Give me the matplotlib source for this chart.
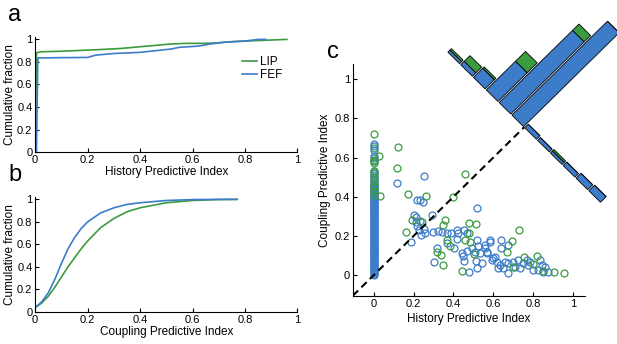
import numpy as np
import matplotlib
matplotlib.use("Agg")
import matplotlib.pyplot as plt
from matplotlib.transforms import Affine2D

plt.rcParams['font.family'] = ['Liberation Sans', 'DejaVu Sans']
plt.rcParams['font.size'] = 8

BLUE = '#3d7cc9'
GREEN = '#3a9b3f'

# panel a: CDF of history predictive index
hist_lip_x = [0, 0.005, 0.02, 0.1, 0.2, 0.25, 0.33, 0.4, 0.45, 0.52, 0.58, 0.65, 0.7, 0.75, 0.85, 0.96]
hist_lip_y = [0, 0.88, 0.89, 0.895, 0.905, 0.91, 0.92, 0.935, 0.945, 0.96, 0.965, 0.965, 0.97, 0.98, 0.99, 1.0]
hist_fef_x = [0, 0.005, 0.01, 0.1, 0.2, 0.23, 0.3, 0.4, 0.48, 0.52, 0.55, 0.62, 0.67, 0.72, 0.8, 0.85, 0.88]
hist_fef_y = [0, 0.0, 0.835, 0.838, 0.84, 0.86, 0.875, 0.885, 0.905, 0.915, 0.93, 0.94, 0.96, 0.975, 0.985, 1.0, 1.0]

# panel b: CDF of coupling predictive index
coup_x = [0, 0.025, 0.05, 0.075, 0.1, 0.125, 0.15, 0.175, 0.2, 0.25, 0.3, 0.35, 0.4, 0.5, 0.6, 0.7, 0.77]
coup_fef = [0.04, 0.09, 0.17, 0.29, 0.43, 0.56, 0.66, 0.74, 0.80, 0.88, 0.925, 0.955, 0.97, 0.99, 0.998, 1.0, 1.0]
coup_lip = [0.04, 0.08, 0.14, 0.22, 0.31, 0.40, 0.48, 0.56, 0.63, 0.75, 0.83, 0.89, 0.925, 0.97, 0.99, 0.998, 1.0]

# panel c: scatter, FEF (blue) neurons with zero history index
fef_col_y = [0.000, 0.005, 0.010, 0.015, 0.020, 0.025, 0.030, 0.035, 0.040, 0.045, 0.050, 0.055,
             0.060, 0.065, 0.070, 0.075, 0.080, 0.085, 0.090, 0.095, 0.100, 0.105, 0.110, 0.115,
             0.120, 0.125, 0.130, 0.135, 0.140, 0.145, 0.150, 0.155, 0.160, 0.165, 0.170, 0.175,
             0.180, 0.185, 0.190, 0.195, 0.200, 0.205, 0.210, 0.215, 0.220, 0.225, 0.230, 0.235,
             0.240, 0.245, 0.250, 0.255, 0.260, 0.265, 0.270, 0.275, 0.280, 0.285, 0.290, 0.295,
             0.300, 0.305, 0.310, 0.315, 0.320, 0.325, 0.330, 0.335, 0.340, 0.345, 0.350, 0.355,
             0.360, 0.365, 0.370, 0.375, 0.380, 0.385, 0.390, 0.395, 0.400, 0.405, 0.410, 0.415,
             0.420, 0.425, 0.430, 0.435, 0.440, 0.445, 0.450, 0.455, 0.46, 0.47, 0.48, 0.49, 0.50,
             0.51, 0.52, 0.53, 0.58, 0.60, 0.61, 0.64, 0.66, 0.67]
fef_x = [0.118, 0.253, 0.219, 0.231, 0.247, 0.29, 0.189, 0.202, 0.21, 0.214, 0.227, 0.217, 0.256,
         0.239, 0.253, 0.231, 0.298, 0.323, 0.34, 0.365, 0.387, 0.416, 0.424, 0.517, 0.315, 0.301,
         0.402, 0.416, 0.449, 0.453, 0.478, 0.466, 0.453, 0.517, 0.525, 0.534, 0.508, 0.492, 0.513,
         0.517, 0.542, 0.559, 0.584, 0.466, 0.441, 0.369, 0.567,
         0.641, 0.583, 0.558, 0.566, 0.675, 0.641, 0.599, 0.616, 0.633, 0.658, 0.675, 0.70, 0.725,
         0.75, 0.775, 0.784, 0.834, 0.842, 0.859, 0.876, 0.801, 0.734, 0.675, 0.65, 0.625, 0.608,
         0.591, 0.709, 0.767, 0.826, 0.851]
fef_y = [0.472, 0.506, 0.384, 0.384, 0.372, 0.307, 0.17, 0.307, 0.295, 0.273, 0.231, 0.248, 0.214,
         0.205, 0.234, 0.277, 0.222, 0.226, 0.222, 0.214, 0.214, 0.231, 0.214, 0.341, 0.138, 0.065,
         0.138, 0.183, 0.095, 0.07, 0.015, 0.214, 0.231, 0.18, 0.146, 0.112, 0.117, 0.138, 0.073,
         0.036, 0.061, 0.138, 0.18, 0.121, 0.112, 0.163, 0.112,
         0.178, 0.17, 0.153, 0.119, 0.153, 0.136, 0.085, 0.068, 0.051, 0.068, 0.06, 0.068, 0.076,
         0.06, 0.051, 0.068, 0.076, 0.051, 0.043, 0.017, 0.025, 0.034, 0.008, 0.034, 0.034, 0.093,
         0.076, 0.043, 0.076, 0.025, 0.017]

# panel c: scatter, LIP (green)
lip_col_y = [0.72, 0.65, 0.59, 0.58, 0.57, 0.53, 0.52, 0.50, 0.48, 0.46, 0.45, 0.43, 0.41]
lip_x = [0.121, 0.024, 0.118, 0.029, 0.17, 0.261, 0.458, 0.399, 0.162, 0.19, 0.24, 0.359, 0.345,
         0.48, 0.512, 0.369, 0.382, 0.315, 0.335, 0.348, 0.443, 0.458, 0.48, 0.483, 0.503, 0.668,
         0.73, 0.692, 0.756, 0.821, 0.801, 0.70, 0.848, 0.905, 0.956]
lip_y = [0.652, 0.61, 0.548, 0.404, 0.413, 0.404, 0.516, 0.40, 0.219, 0.28, 0.27, 0.282, 0.256,
         0.265, 0.261, 0.18, 0.146, 0.117, 0.104, 0.049, 0.022, 0.18, 0.214, 0.171, 0.105, 0.117,
         0.23, 0.174, 0.094, 0.096, 0.059, 0.043, 0.022, 0.017, 0.009]

# rotated histogram of (history - coupling), upper-left bin first
diff_fef = [3, 5, 13, 41, 103, 134, 5, 4, 3, 5, 7, 8]
diff_lip = [2, 8, 2, 14, 9, 0, 0, 0, 2, 0, 0, 0]

fig = plt.figure(figsize=(6.17, 3.44), dpi=100)
ax_a = fig.add_axes([0.057, 0.558, 0.425, 0.334])
ax_b = fig.add_axes([0.057, 0.093, 0.425, 0.334])
ax_c = fig.add_axes([0.572, 0.1395, 0.376, 0.674])

ticks = [0, 0.2, 0.4, 0.6, 0.8, 1]
ticklabels = ['0', '0.2', '0.4', '0.6', '0.8', '1']

for ax in (ax_a, ax_b):
    ax.set_xlim(0, 1)
    ax.set_ylim(0, 1.02)
    ax.set_ylabel('Cumulative fraction', fontsize=8.5, labelpad=1)

for ax in (ax_a, ax_b, ax_c):
    for s in ('top', 'right'):
        ax.spines[s].set_visible(False)
    ax.set_xticks(ticks)
    ax.set_xticklabels(ticklabels)
    ax.set_yticks(ticks)
    ax.set_yticklabels(ticklabels)
    ax.tick_params(direction='in', length=3, labelsize=8, pad=2)

ax_a.plot(hist_lip_x, hist_lip_y, color=GREEN, lw=1.2, label='LIP')
ax_a.plot(hist_fef_x, hist_fef_y, color=BLUE, lw=1.2, label='FEF')
ax_a.set_xlabel('History Predictive Index', fontsize=8.5, labelpad=1)
ax_a.legend(loc='upper left', bbox_to_anchor=(0.77, 0.88), frameon=False,
            handlelength=1.3, handletextpad=0.2, labelspacing=0.15, fontsize=8.5,
            borderaxespad=0)

ax_b.plot(coup_x, coup_lip, color=GREEN, lw=1.2)
ax_b.plot(coup_x, coup_fef, color=BLUE, lw=1.2)
ax_b.set_xlabel('Coupling Predictive Index', fontsize=8.5, labelpad=1)

ax_c.set_xlabel('History Predictive Index', fontsize=8.5, labelpad=3)
ax_c.set_ylabel('Coupling Predictive Index', fontsize=8.5, labelpad=3)

mk = dict(ls='none', marker='o', mfc='none', ms=5, mew=0.9)
ax_c.plot(np.zeros(len(fef_col_y)), fef_col_y, mec=BLUE, **mk)
ax_c.plot(fef_x, fef_y, mec=BLUE, **mk)
ax_c.plot(np.zeros(len(lip_col_y)), lip_col_y, mec=GREEN, **mk)
ax_c.plot(lip_x, lip_y, mec=GREEN, **mk)

center = 0.755
ax_c.plot([-0.105, center], [-0.105, center], color='k', lw=1.5, ls=(0, (3.5, 2.2)))

# histogram bars drawn in a frame rotated by -45 degrees around the diagonal end
step = 0.091
u = (np.arange(len(diff_fef)) - 5.5) * step
rot = Affine2D().scale(1, 1 / 197.5).rotate_deg(-45).translate(center, center) + ax_c.transData
ax_c.bar(u, diff_fef, width=0.083, color=BLUE, edgecolor='k', lw=0.6,
         transform=rot, clip_on=False, zorder=5)
ax_c.bar(u, diff_lip, width=0.083, bottom=diff_fef, color=GREEN, edgecolor='k', lw=0.6,
         transform=rot, clip_on=False, zorder=5)
ax_c.set_xlim(-0.105, 1.06)
ax_c.set_ylim(-0.107, 1.077)

fig.text(0.024, 0.955, 'a', fontsize=17, va='center', ha='center')
fig.text(0.024, 0.49, 'b', fontsize=17, va='center', ha='center')
fig.text(0.54, 0.85, 'c', fontsize=17, va='center', ha='center')

fig.savefig('out.png', dpi=100)
